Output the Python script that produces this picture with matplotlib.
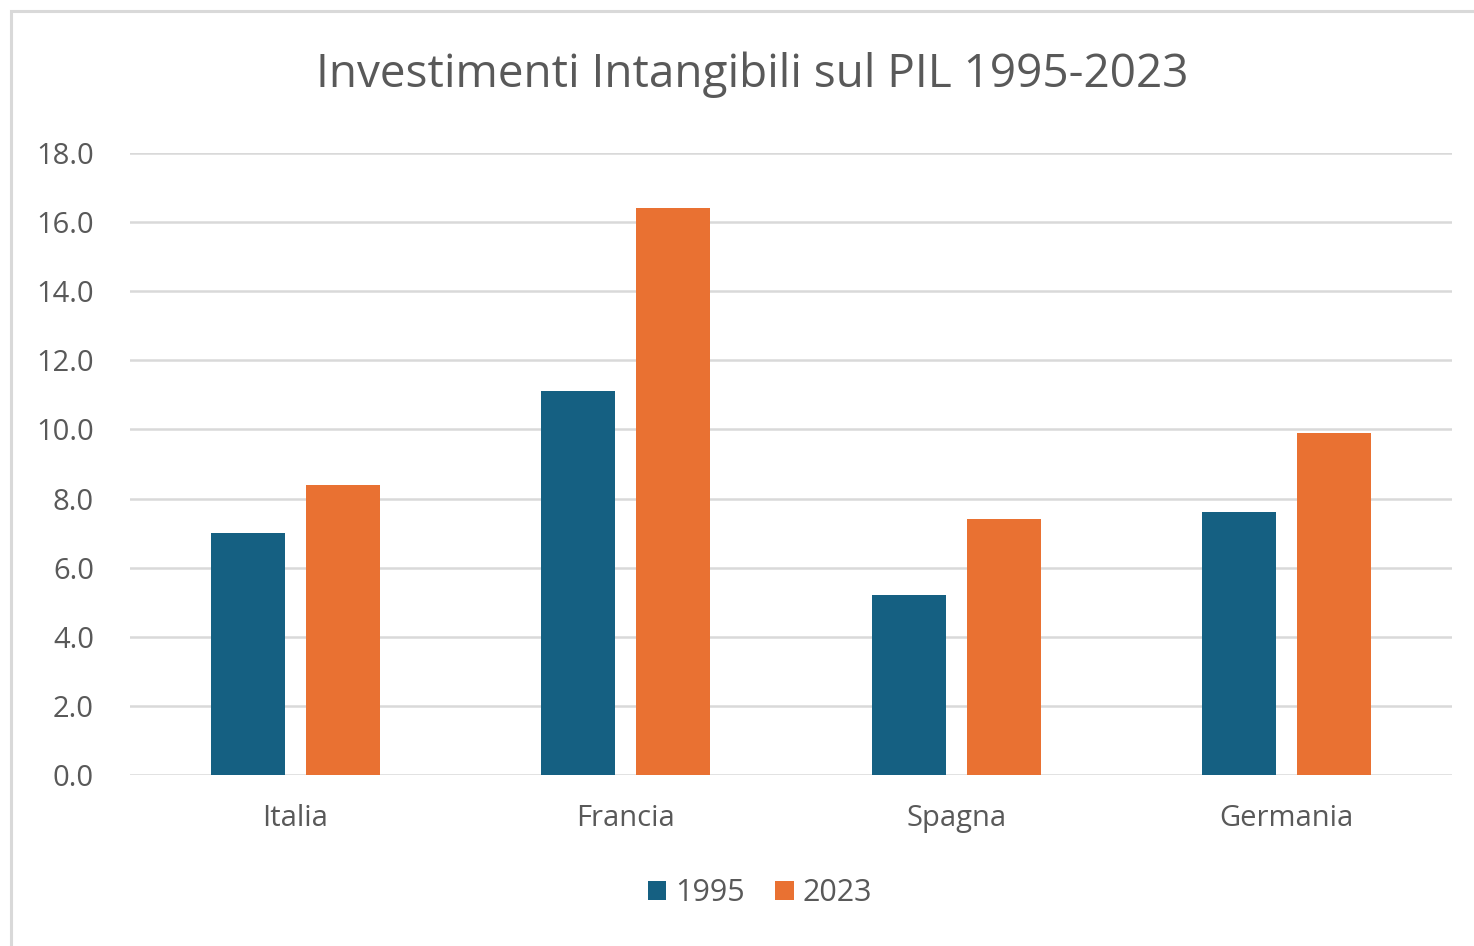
import matplotlib
matplotlib.use('Agg')
from matplotlib import pyplot as plt
from matplotlib.patches import Rectangle
import numpy as np

paesi = ['Italia', 'Francia', 'Spagna', 'Germania']
anni = ['1995', '2023']
val_1995 = [7.0, 11.1, 5.2, 7.6]
val_2023 = [8.4, 16.4, 7.4, 9.9]
y_ticks = [0, 2, 4, 6, 8, 10, 12, 14, 16, 18]

blu = '#156082'
arancio = '#E97132'
grigio_testo = '#595959'
grigio_linee = '#D9D9D9'

plt.rcParams['font.family'] = ['Open Sans', 'DejaVu Sans']

fig = plt.figure(figsize=(14.74, 9.46), dpi=100)
ax = fig.add_axes([130/1474, 171/946, 1322/1474, 622/946])

# cornice grigia come nello screenshot
fig.patches.append(Rectangle((11/1474, -0.1), 1.2, 1.1 - 11/946,
                             transform=fig.transFigure, fill=False,
                             edgecolor=grigio_linee, linewidth=2.2))

x = np.arange(len(paesi))
w = 0.224
off = 0.144
ax.bar(x - off, val_1995, width=w, color=blu, label=anni[0], zorder=3)
ax.bar(x + off, val_2023, width=w, color=arancio, label=anni[1], zorder=3)

ax.set_xlim(-0.5, 3.5)
ax.set_ylim(0, 18)
ax.set_yticks(y_ticks)
ax.set_yticklabels(['%.1f' % v for v in y_ticks])
ax.set_xticks(x)
ax.set_xticklabels(paesi)
ax.grid(axis='y', color=grigio_linee, linewidth=1.8, zorder=0)
ax.set_axisbelow(True)
for s in ax.spines.values():
    s.set_visible(False)
ax.tick_params(axis='both', length=0, colors=grigio_testo)
ax.tick_params(axis='y', pad=26, labelsize=21)
ax.tick_params(axis='x', pad=21, labelsize=21)

fig.text(752/1474, 1 - 75/946, 'Investimenti Intangibili sul PIL 1995-2023',
         ha='center', va='center', fontsize=33, color=grigio_testo)

leg = fig.legend(loc='center', bbox_to_anchor=(760/1474, 1 - 893/946), ncol=2,
                 frameon=False, fontsize=22, handlelength=0.6, handleheight=0.6,
                 handletextpad=0.3, columnspacing=1.0, labelcolor=grigio_testo)

fig.savefig('out.png', dpi=100, facecolor='white')
